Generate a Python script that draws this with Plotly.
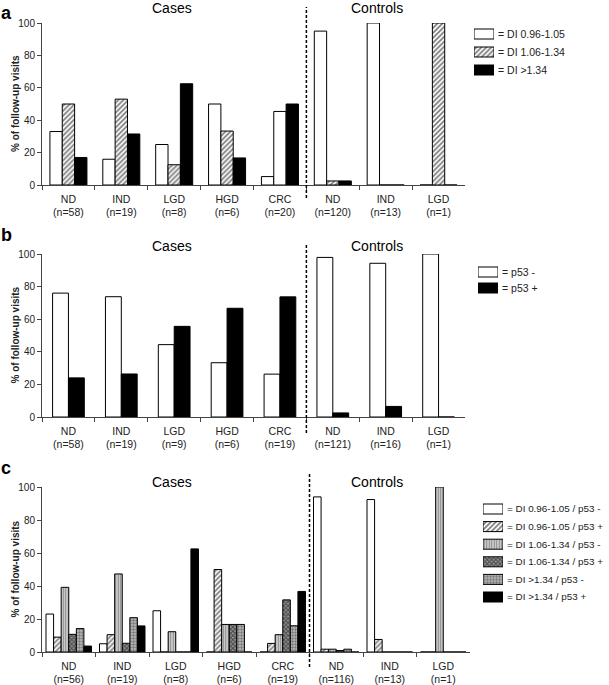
import plotly.graph_objects as go

W, H = 609, 685

# ---------------- data ----------------
groups = ["ND", "IND", "LGD", "HGD", "CRC", "ND", "IND", "LGD"]

n_a = [58, 19, 8, 6, 20, 120, 13, 1]
names_a = ["= DI 0.96-1.05", "= DI 1.06-1.34", "= DI >1.34"]
a_di_low = [33, 15.9, 25, 50, 5.2, 95, 100, 0]
a_di_mid = [50, 53, 12.5, 33.3, 45.4, 2.5, 0, 100]
a_di_high = [17, 31.5, 62.5, 16.7, 50, 2.5, 0, 0]

n_b = [58, 19, 9, 6, 19, 121, 16, 1]
names_b = ["= p53 -", "= p53 +"]
b_neg = [76, 73.8, 44.4, 33.3, 26.3, 97.9, 94.3, 100]
b_pos = [24, 26.4, 55.6, 66.7, 73.7, 2.5, 6.5, 0]

n_c = [56, 19, 8, 6, 19, 116, 13, 1]
names_c = ["= DI 0.96-1.05 / p53 -", "= DI 0.96-1.05 / p53 +",
           "= DI 1.06-1.34 / p53 -", "= DI 1.06-1.34 / p53 +",
           "= DI >1.34 / p53 -", "= DI >1.34 / p53 +"]
c_low_neg = [23, 5, 25, 0, 0, 94, 92.4, 0]
c_low_pos = [9, 10.5, 0, 50, 5.2, 1.7, 7.6, 0]
c_mid_neg = [39.2, 47.3, 12.3, 16.7, 10.5, 1.7, 0, 100]
c_mid_pos = [10.7, 5.3, 0, 16.7, 31.6, 0.9, 0, 0]
c_high_neg = [14.2, 20.8, 0, 16.7, 15.9, 1.7, 0, 0]
c_high_pos = [3.6, 15.8, 62.5, 0, 36.7, 0, 0, 0]

y_ticks = [0, 20, 40, 60, 80, 100]

# ---------------- styles ----------------
FONT = "Liberation Sans, Arial, sans-serif"
AX = "#444"


def labels(ns):
    return [f"{g}<br>(n={n})" for g, n in zip(groups, ns)]


def py(p):
    return 1 - p / H


def px(p):
    return p / W


white = dict(shape="", bgcolor="white")
hatch = dict(shape="/", fgcolor="#000", bgcolor="white", size=3.5, solidity=0.5)
black = dict(shape="", bgcolor="black")
vert = dict(shape="|", fgcolor="#333", bgcolor="#d6d6d6", size=2.5, solidity=0.45)
check = dict(shape="x", fgcolor="#000", bgcolor="#999", size=3, solidity=0.6)
dots = dict(shape=".", fgcolor="#333", bgcolor="#bdbdbd", size=3, solidity=0.5)

fig = go.Figure()


def add_panel(idx, ns, series, names, pats, colors, gap):
    cats = labels(ns)
    k = len(series)
    gw = 1 - gap
    w = gw / k
    xa = "x" if idx == 1 else f"x{idx}"
    ya = "y" if idx == 1 else f"y{idx}"
    for i, (vals, nm, pat, col) in enumerate(zip(series, names, pats, colors)):
        fig.add_trace(go.Bar(
            x=cats, y=vals, name=nm, xaxis=xa, yaxis=ya,
            width=w, offset=-gw / 2 + i * w, showlegend=False,
            marker=dict(color=col, line=dict(color="black", width=1), pattern=pat),
        ))
    return cats


# panel a: CRC middle bar shown unhatched in the reference
hatch_a = dict(hatch)
hatch_a["shape"] = ["/", "/", "/", "/", "", "/", "/", "/"]
pats_a = [white, hatch_a, black]
pats_b = [white, black]
pats_c = [white, hatch, vert, check, dots, black]
cols_a = ["white", "white", "black"]
cols_b = ["white", "black"]
cols_c = ["white", "white", "#d6d6d6", "#999", "#bdbdbd", "black"]

cats_a = add_panel(1, n_a, [a_di_low, a_di_mid, a_di_high], names_a, pats_a, cols_a, 0.3)
cats_b = add_panel(2, n_b, [b_neg, b_pos], names_b, pats_b, cols_b, 0.4)
cats_c = add_panel(3, n_c, [c_low_neg, c_low_pos, c_mid_neg, c_mid_pos, c_high_neg, c_high_pos],
                   names_c, pats_c, cols_c, 0.15)

# panel geometry in window pixels: (left, right, top, bottom)
geo = {1: (42, 465, 23, 185), 2: (42, 465, 254, 417), 3: (42, 470, 487, 652)}
cats_all = {1: cats_a, 2: cats_b, 3: cats_c}

layout = dict(
    width=W, height=H, margin=dict(l=0, r=0, t=0, b=0, autoexpand=False),
    paper_bgcolor="white", plot_bgcolor="white",
    barmode="overlay", showlegend=False,
    font=dict(family=FONT, size=10, color="#222"),
)

for i in (1, 2, 3):
    l, r, t, b = geo[i]
    xs = "xaxis" if i == 1 else f"xaxis{i}"
    ys = "yaxis" if i == 1 else f"yaxis{i}"
    layout[xs] = dict(
        domain=[px(l), px(r)], anchor="y" if i == 1 else f"y{i}",
        type="category", categoryorder="array", categoryarray=cats_all[i],
        range=[-0.5, 7.5], tickson="boundaries", ticks="outside", ticklen=4,
        tickcolor=AX, showline=True, linecolor=AX, linewidth=1,
        showgrid=False, zeroline=False, tickfont=dict(size=10.5, color="#222"),
        ticklabelstandoff=4, fixedrange=True,
    )
    layout[ys] = dict(
        domain=[py(b), py(t)], anchor="x" if i == 1 else f"x{i}",
        range=[0, 100], tickvals=y_ticks, ticks="outside", ticklen=4,
        tickcolor=AX, showline=True, linecolor=AX, linewidth=1,
        showgrid=False, zeroline=False, tickfont=dict(size=10, color="#222"),
        fixedrange=True,
    )

# ---------------- custom legends (pattern boxes on hidden axes) ----------------
# (names, patterns, colours, box left px, first row centre px, row step px, font size)
legends = [
    (names_a, pats_a, cols_a, 474, 34, 18, 10.5),
    (names_b, pats_b, cols_b, 478, 272, 16, 10.5),
    (names_c, pats_c, cols_c, 483, 509, 17.6, 9.9),
]
BOX_W, BOX_H = 20, 10
leg_annots = []
for j, (nms, pats, cols, bx, y0, step, fs) in enumerate(legends):
    ax_i = 4 + j
    k = len(nms)
    top = y0 - step / 2
    bot = y0 + (k - 1) * step + step / 2
    layout[f"xaxis{ax_i}"] = dict(domain=[px(bx), px(bx + BOX_W)], range=[0, 1],
                                  visible=False, anchor=f"y{ax_i}", fixedrange=True)
    layout[f"yaxis{ax_i}"] = dict(domain=[py(bot), py(top)], type="category",
                                  categoryorder="array", categoryarray=nms,
                                  range=[k - 0.5, -0.5], visible=False,
                                  anchor=f"x{ax_i}", fixedrange=True)
    for nm, pat, col in zip(nms, pats, cols):
        p = dict(pat)
        if isinstance(p.get("shape"), list):
            p["shape"] = "/"
        fig.add_trace(go.Bar(
            y=[nm], x=[1], base=0, orientation="h", width=BOX_H / step,
            xaxis=f"x{ax_i}", yaxis=f"y{ax_i}", showlegend=False, hoverinfo="skip",
            marker=dict(color=col, line=dict(color="black", width=1), pattern=p),
        ))
        leg_annots.append(dict(text=nm, x=px(bx + BOX_W + 2), y=nm, xref="paper",
                               yref=f"y{ax_i}", xanchor="left", yanchor="middle",
                               showarrow=False, font=dict(size=fs, color="#222")))

fig.update_layout(**layout)

for a in leg_annots:
    fig.add_annotation(**a)

# panel letters, section titles, y titles, dashed separators
letters = [("a", 13), ("b", 235), ("c", 468)]
for (txt, yy) in letters:
    fig.add_annotation(text=f"<b>{txt}</b>", x=px(6), y=py(yy), xref="paper", yref="paper",
                       showarrow=False, font=dict(size=18, color="black"),
                       xanchor="center", yanchor="middle")

titles_y = [8, 246, 482]
for yy in titles_y:
    fig.add_annotation(text="Cases", x=px(172), y=py(yy), xref="paper", yref="paper",
                       showarrow=False, font=dict(size=14, color="black"),
                       xanchor="center", yanchor="middle")
    fig.add_annotation(text="Controls", x=px(377), y=py(yy), xref="paper", yref="paper",
                       showarrow=False, font=dict(size=14, color="black"),
                       xanchor="center", yanchor="middle")

for i in (1, 2, 3):
    l, r, t, b = geo[i]
    fig.add_annotation(text="<b>% of follow-up visits</b>", x=px(15), y=py((t + b) / 2),
                       xref="paper", yref="paper", textangle=-90, showarrow=False,
                       xanchor="center", yanchor="middle",
                       font=dict(size=10, color="#222"))

dash_spans = {1: (7, 198), 2: (243, 433), 3: (473, 667)}
for i in (1, 2, 3):
    y0, y1 = dash_spans[i]
    fig.add_shape(type="line", xref="x" if i == 1 else f"x{i}", yref="paper",
                  x0=4.5, x1=4.5, y0=py(y1), y1=py(y0),
                  line=dict(color="black", width=1.5, dash="3px,2px"))

# remove the default 8px page margin so the figure sits at the window corner
fig.write_html("out.html", config={"displayModeBar": False},
               post_script="document.body.style.margin='0';document.body.style.padding='0';")
